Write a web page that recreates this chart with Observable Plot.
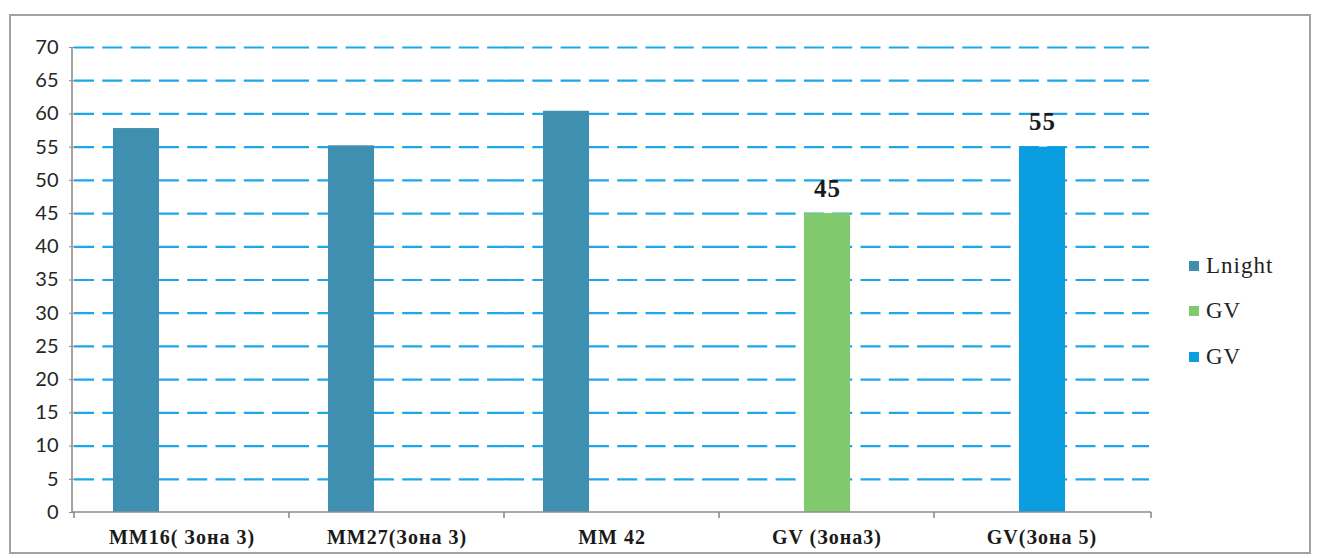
<!DOCTYPE html>
<html>
<head>
<meta charset="utf-8">
<script src="https://cdn.jsdelivr.net/npm/d3@7"></script>
<script src="https://cdn.jsdelivr.net/npm/@observablehq/plot@0.6"></script>
<style>
  html, body { margin: 0; padding: 0; background: #fff; }
  #wrap { position: relative; width: 1322px; height: 558px; overflow: hidden; background: #fff; }
  #wrap svg { position: absolute; left: 0; top: 0; }
  #frame { position: absolute; left: 9px; top: 14px; width: 1302px; height: 540px;
           border: 2px solid #a3a3a3; box-sizing: border-box; pointer-events: none; }
  #legend { position: absolute; left: 1189px; top: 243px; font-family: "Liberation Serif", serif;
            font-size: 23px; color: #222; letter-spacing: 1px; }
  #legend .item { display: flex; align-items: center; height: 45.5px; }
  #legend .sw { width: 10px; height: 10px; margin-right: 7px; }
  g[aria-label="fx-axis tick label"] text { letter-spacing: 1px; }
  g[aria-label="text"] text { letter-spacing: 1px; }
</style>
</head>
<body>
<div id="wrap">
  <div id="legend"></div>
  <div id="frame"></div>
</div>
<script>
// ---- data ----
const categories = ["MM16( Зона 3)", "MM27(Зона 3)", "MM 42", "GV (Зона3)", "GV(Зона 5)"];
const values = [57.8, 55.2, 60.4, 45, 55];
const series = ["Lnight", "Lnight", "Lnight", "GV", "GV2"];
const labels = ["", "", "", "45", "55"];

const seriesKeys = ["Lnight", "GV", "GV2"];
const legendNames = ["Lnight", "GV", "GV"];
const seriesColors = ["#3f8fb1", "#80c96d", "#0a9de0"];
const slots = ["left", "center", "right"];
const yTicks = [0, 5, 10, 15, 20, 25, 30, 35, 40, 45, 50, 55, 60, 65, 70];
const gridTicks = yTicks.filter(t => t > 0);

const data = categories.map((c, i) => ({category: c, value: values[i], series: series[i], label: labels[i]}));
const slotOf = d => d.series === "Lnight" ? "left" : "center";

const chart = Plot.plot({
  width: 1322,
  height: 558,
  marginLeft: 72,
  marginRight: 171,
  marginTop: 47,
  marginBottom: 46,
  style: {background: "transparent", overflow: "visible"},
  fx: {domain: categories, padding: 0, label: null},
  x: {domain: slots, paddingInner: 0, paddingOuter: 0.8, axis: null},
  y: {domain: [0, 70], label: null},
  color: {domain: seriesKeys, range: seriesColors},
  marks: [
    Plot.ruleY(gridTicks, {stroke: "#1ea6ea", strokeWidth: 2.2, strokeDasharray: "20,8.3"}),
    Plot.barY(data, {fx: "category", x: slotOf, y: "value", fill: "series"}),
    Plot.text(data, {fx: "category", x: slotOf, y: "value", text: "label", lineAnchor: "bottom", dy: -17,
      fontFamily: "Liberation Serif", fontWeight: "bold", fontSize: 25, fill: "#1a1a1a"}),
    Plot.axisY({ticks: yTicks, tickSize: 5, tickPadding: 11, stroke: "#8c8c8c", fill: "#262626",
      fontFamily: "Lato", fontSize: 20, label: null}),
    Plot.axisFx({anchor: "bottom", tickSize: 0, tickPadding: 17, fill: "#1a1a1a",
      fontFamily: "Liberation Serif", fontWeight: "bold", fontSize: 20, label: null})
  ]
});

// axis line, baseline and category boundary ticks from the plot's own scales
const fx = chart.scale("fx");
const ys = chart.scale("y");
const svg = d3.select(chart);
const g = svg.append("g").attr("stroke", "#8c8c8c").attr("stroke-width", 1.6);
const x0 = fx.range[0], x1 = fx.range[1];
const yb = ys.apply(0), yt = ys.apply(70);
g.append("line").attr("x1", x0).attr("x2", x0).attr("y1", yt).attr("y2", yb);
g.append("line").attr("x1", x0).attr("x2", x1).attr("y1", yb).attr("y2", yb);
const bounds = categories.map(c => fx.apply(c)).concat([x1]);
bounds.forEach(b => g.append("line").attr("x1", b).attr("x2", b).attr("y1", yb).attr("y2", yb + 6));

document.getElementById("wrap").appendChild(chart);

// legend
const leg = document.getElementById("legend");
legendNames.forEach((n, i) => {
  const it = document.createElement("div");
  it.className = "item";
  const sw = document.createElement("span");
  sw.className = "sw";
  sw.style.background = seriesColors[i];
  const tx = document.createElement("span");
  tx.textContent = n;
  it.appendChild(sw);
  it.appendChild(tx);
  leg.appendChild(it);
});
</script>
</body>
</html>
